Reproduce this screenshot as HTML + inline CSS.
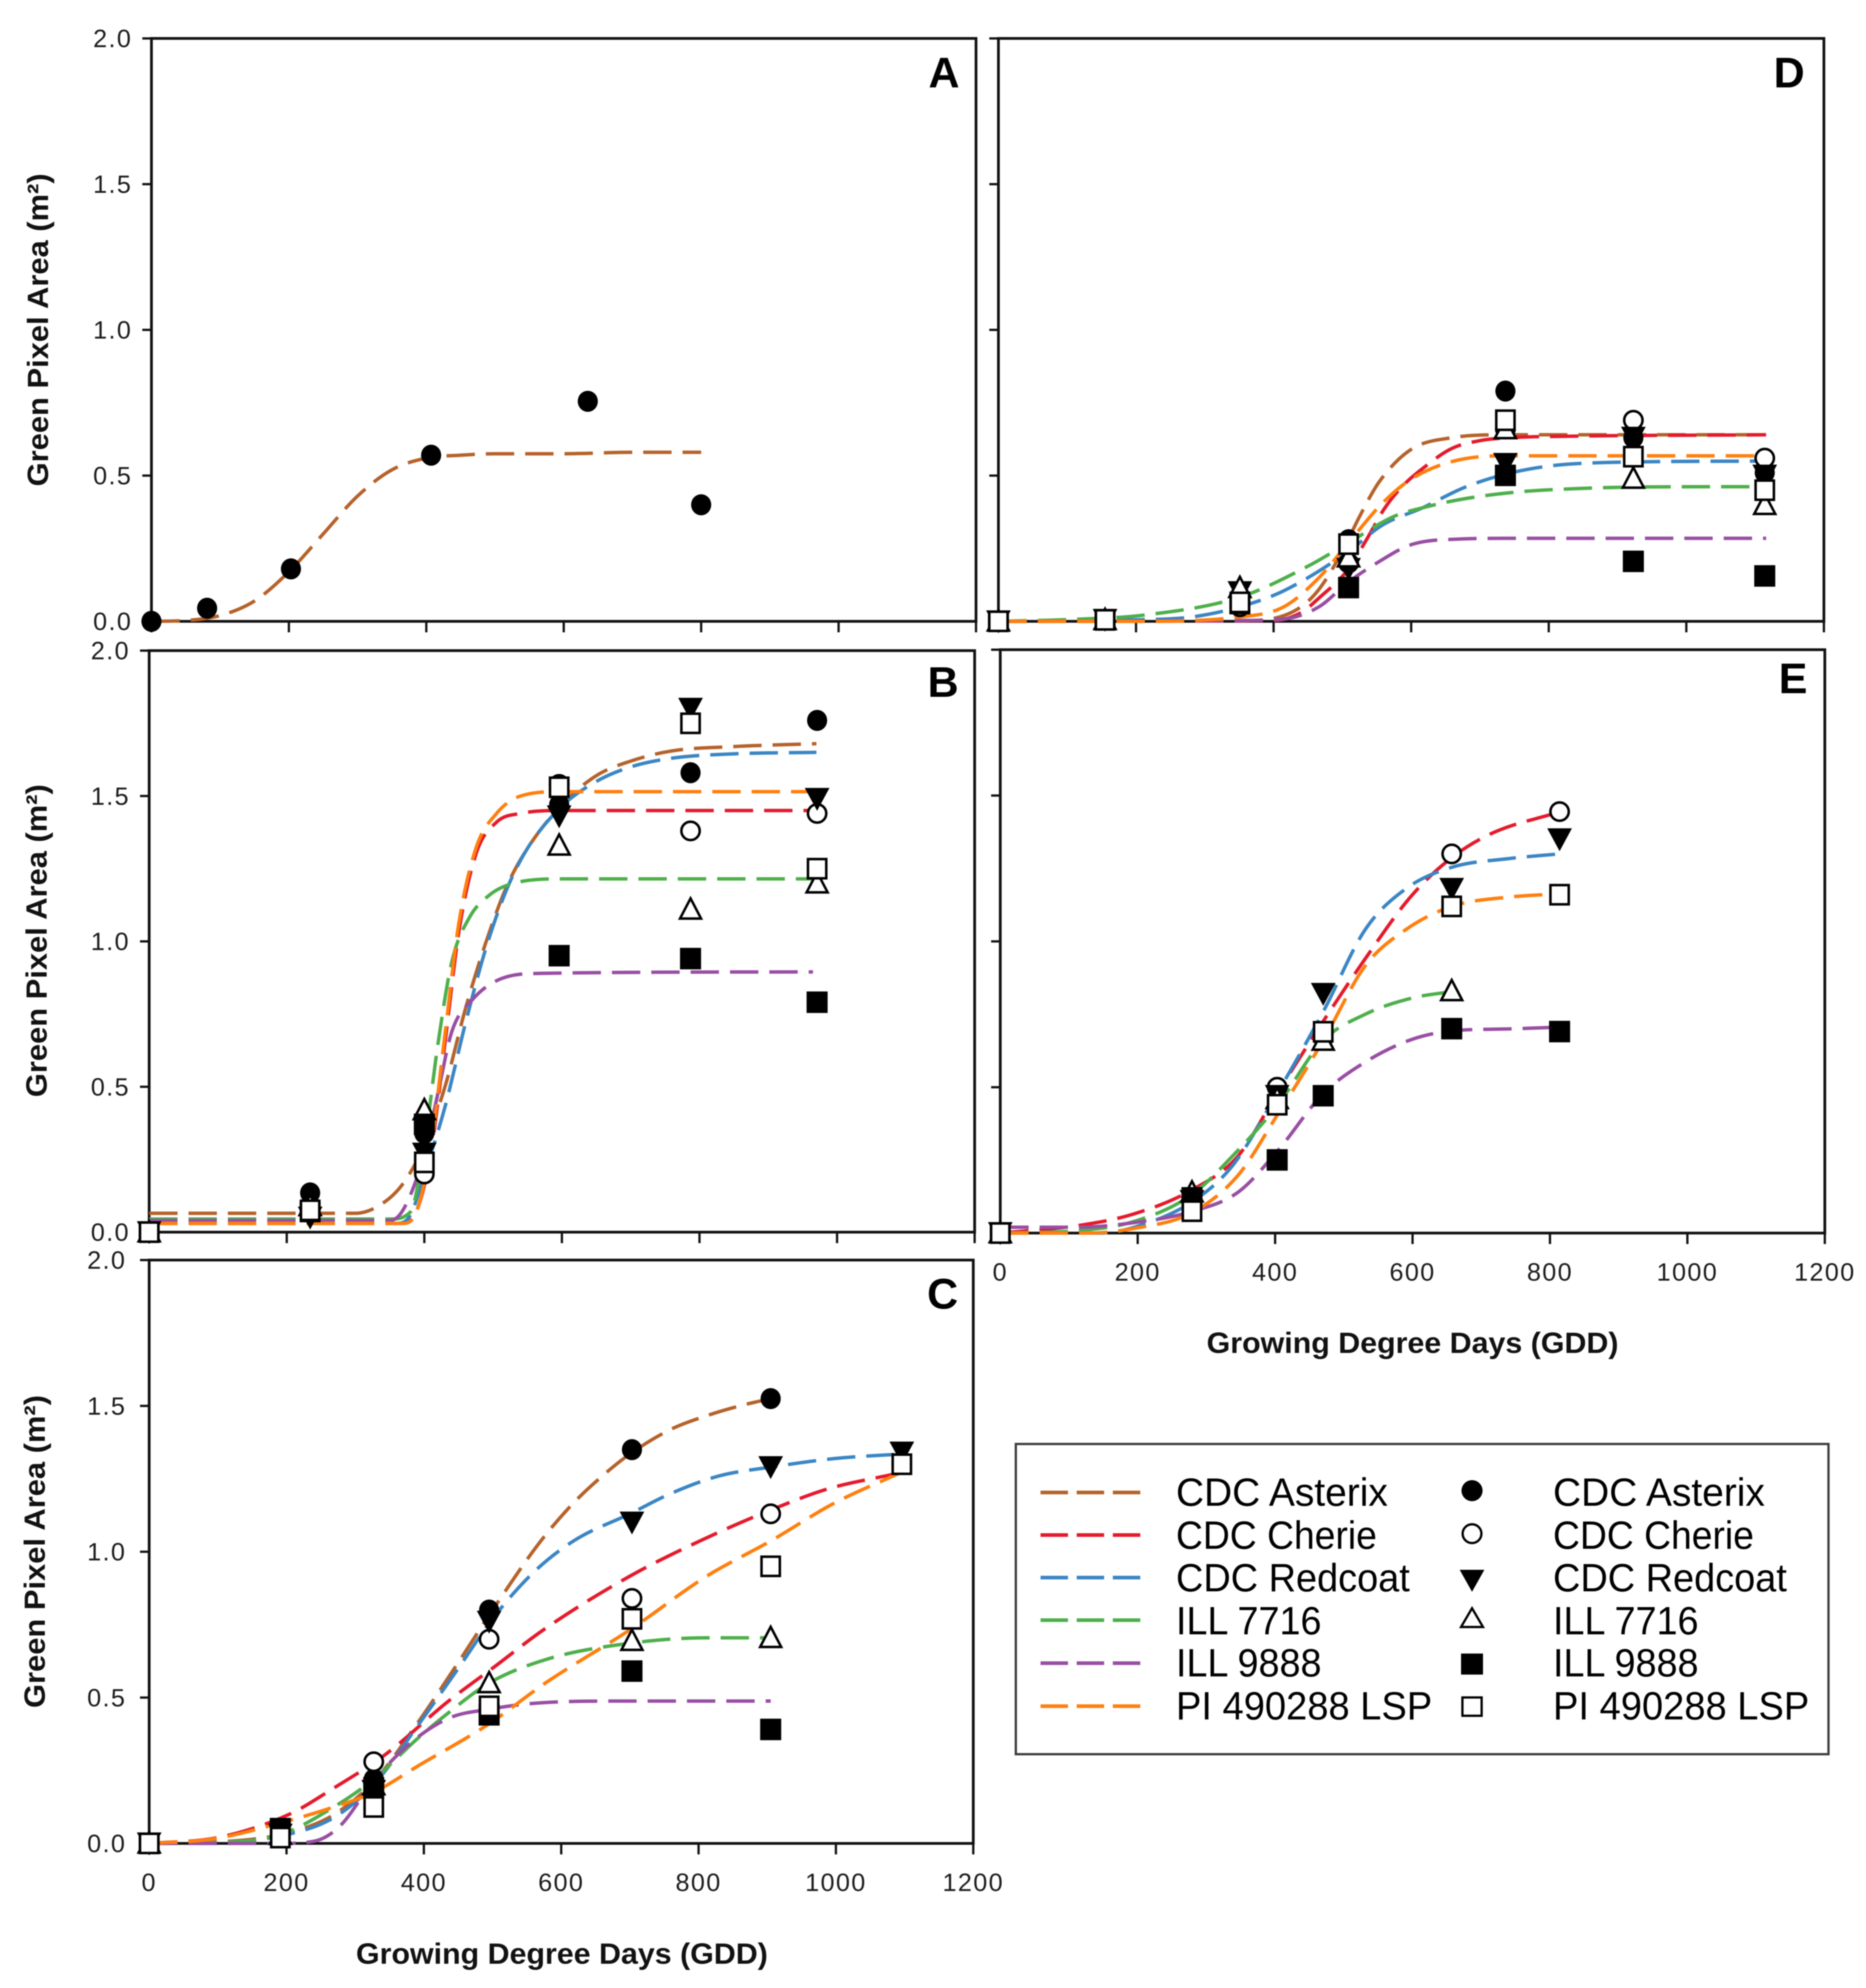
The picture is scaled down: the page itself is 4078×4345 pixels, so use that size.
<!DOCTYPE html>
<html lang="en">
<head>
<meta charset="utf-8">
<title>Green Pixel Area vs Growing Degree Days</title>
<style>
  html, body { margin: 0; padding: 0; background: #fff; }
  svg { display: block; filter: blur(1.2px); }
  text { font-family: "Liberation Sans", Arial, sans-serif; fill: #111; }
  .tick { font-size: 55px; letter-spacing: 3px; fill: #1c1c1c; }
  .axis-title { font-size: 64px; font-weight: bold; }
  .panel-letter { font-size: 94px; font-weight: bold; fill: #000; }
  .legend-text { font-size: 86px; fill: #000; }
</style>
</head>
<body>
<svg id="chart" xmlns="http://www.w3.org/2000/svg" width="4078" height="4345" viewBox="0 0 4078 4345">
  <rect x="0" y="0" width="4078" height="4345" fill="#fff"/>
  <g id="panels"></g>
  <g id="legend">
    <rect x="2220" y="3156" width="1776" height="678" fill="#fff" stroke="#3c3c3c" stroke-width="5"/>
    <g>
      <line x1="2274" x2="2492" y1="3262" y2="3262" stroke="#b5622a" stroke-width="8" stroke-dasharray="60 19"/>
      <text class="legend-text" x="2570" y="3291" textLength="463" lengthAdjust="spacingAndGlyphs">CDC Asterix</text>
    </g>
    <g>
      <line x1="2274" x2="2492" y1="3355" y2="3355" stroke="#e41a2c" stroke-width="8" stroke-dasharray="60 19"/>
      <text class="legend-text" x="2570" y="3385" textLength="439" lengthAdjust="spacingAndGlyphs">CDC Cherie</text>
    </g>
    <g>
      <line x1="2274" x2="2492" y1="3448" y2="3448" stroke="#3a85c4" stroke-width="8" stroke-dasharray="60 19"/>
      <text class="legend-text" x="2570" y="3478" textLength="511" lengthAdjust="spacingAndGlyphs">CDC Redcoat</text>
    </g>
    <g>
      <line x1="2274" x2="2492" y1="3541" y2="3541" stroke="#4daf4a" stroke-width="8" stroke-dasharray="60 19"/>
      <text class="legend-text" x="2570" y="3572" textLength="318" lengthAdjust="spacingAndGlyphs">ILL 7716</text>
    </g>
    <g>
      <line x1="2274" x2="2492" y1="3635" y2="3635" stroke="#984ea3" stroke-width="8" stroke-dasharray="60 19"/>
      <text class="legend-text" x="2570" y="3664" textLength="318" lengthAdjust="spacingAndGlyphs">ILL 9888</text>
    </g>
    <g>
      <line x1="2274" x2="2492" y1="3729" y2="3729" stroke="#ff7f0e" stroke-width="8" stroke-dasharray="60 19"/>
      <text class="legend-text" x="2570" y="3758" textLength="560" lengthAdjust="spacingAndGlyphs">PI 490288 LSP</text>
    </g>
    <g>
      <circle cx="3217" cy="3258" r="23" fill="#000"/>
      <text class="legend-text" x="3394" y="3291" textLength="463" lengthAdjust="spacingAndGlyphs">CDC Asterix</text>
    </g>
    <g>
      <circle cx="3217" cy="3352" r="20.5" fill="#fff" stroke="#000" stroke-width="5"/>
      <text class="legend-text" x="3394" y="3385" textLength="439" lengthAdjust="spacingAndGlyphs">CDC Cherie</text>
    </g>
    <g>
      <polygon points="3190,3431 3244,3431 3217,3479" fill="#000"/>
      <text class="legend-text" x="3394" y="3478" textLength="511" lengthAdjust="spacingAndGlyphs">CDC Redcoat</text>
    </g>
    <g>
      <polygon points="3193,3556 3241,3556 3217,3515" fill="#fff" stroke="#000" stroke-width="5"/>
      <text class="legend-text" x="3394" y="3572" textLength="318" lengthAdjust="spacingAndGlyphs">ILL 7716</text>
    </g>
    <g>
      <rect x="3193" y="3614" width="48" height="46" fill="#000"/>
      <text class="legend-text" x="3394" y="3664" textLength="318" lengthAdjust="spacingAndGlyphs">ILL 9888</text>
    </g>
    <g>
      <rect x="3196" y="3710" width="42" height="40" fill="#fff" stroke="#000" stroke-width="5"/>
      <text class="legend-text" x="3394" y="3758" textLength="560" lengthAdjust="spacingAndGlyphs">PI 490288 LSP</text>
    </g>
  </g>
</svg>
<script>
// ---------- Axis tick values ----------
const xTickValues = [0, 200, 400, 600, 800, 1000, 1200];
const yTickValues = [0, 0.5, 1, 1.5, 2];
const xTickLabels = ['0', '200', '400', '600', '800', '1000', '1200'];
const yTickLabels = ['0.0', '0.5', '1.0', '1.5', '2.0'];

// ---------- Panel A ----------
const obsDaysA = [0, 81, 203, 407, 635, 800];
const asterixObsA = [0, 0.045, 0.18, 0.57, 0.755, 0.40];
const asterixFitDaysA = [0, 50, 100, 150, 200, 250, 300, 350, 400, 450, 500, 600, 700, 800];
const asterixFitAreaA = [0, 0.003, 0.02, 0.07, 0.17, 0.30, 0.43, 0.52, 0.56, 0.57, 0.575, 0.575, 0.58, 0.58];

// ---------- Panel B ----------
const obsDaysB = [0, 234, 400, 596, 787, 971];
const asterixObsB = [0, 0.135, 0.34, 1.47, 1.58, 1.76];
const cherieObsB = [0, 0.07, 0.20, 1.54, 1.38, 1.44];
const redcoatObsB = [0, 0.05, 0.27, 1.43, 1.80, 1.49];
const ill7716ObsB = [0, 0.09, 0.42, 1.33, 1.11, 1.20];
const ill9888ObsB = [0, 0.07, 0.37, 0.95, 0.94, 0.79];
const lspObsB = [0, 0.075, 0.24, 1.53, 1.75, 1.25];
const asterixFitDaysB = [0, 300, 340, 370, 400, 430, 460, 490, 520, 550, 600, 650, 700, 760, 850, 970];
const asterixFitAreaB = [0.065, 0.065, 0.10, 0.17, 0.30, 0.50, 0.77, 1.0, 1.19, 1.32, 1.47, 1.57, 1.62, 1.655, 1.67, 1.68];
const cherieFitDaysB = [0, 370, 390, 410, 430, 450, 475, 505, 540, 600, 970];
const cherieFitAreaB = [0.03, 0.03, 0.08, 0.28, 0.65, 1.03, 1.30, 1.41, 1.44, 1.45, 1.45];
const redcoatFitDaysB = [0, 360, 380, 400, 430, 460, 490, 520, 550, 600, 650, 700, 760, 850, 970];
const redcoatFitAreaB = [0.03, 0.03, 0.06, 0.20, 0.43, 0.72, 0.98, 1.18, 1.32, 1.465, 1.55, 1.60, 1.63, 1.645, 1.65];
const ill7716FitDaysB = [0, 350, 380, 400, 420, 440, 465, 495, 530, 600, 970];
const ill7716FitAreaB = [0.045, 0.045, 0.07, 0.30, 0.65, 0.93, 1.08, 1.16, 1.20, 1.215, 1.215];
const ill9888FitDaysB = [0, 350, 370, 400, 420, 440, 470, 510, 570, 965];
const ill9888FitAreaB = [0.04, 0.04, 0.08, 0.27, 0.48, 0.69, 0.80, 0.87, 0.89, 0.895];
const lspFitDaysB = [0, 370, 390, 410, 430, 450, 475, 505, 540, 600, 970];
const lspFitAreaB = [0.03, 0.03, 0.08, 0.30, 0.68, 1.06, 1.32, 1.44, 1.50, 1.515, 1.515];

// ---------- Panel C ----------
const obsDaysC = [0, 191, 327, 495, 703, 905, 1096];
const asterixObsC = [0, 0.05, 0.22, 0.80, 1.35, 1.525, null];
const cherieObsC = [0, 0.02, 0.28, 0.70, 0.84, 1.13, 1.30];
const redcoatObsC = [0, 0.03, 0.18, 0.76, 1.10, 1.29, 1.34];
const ill7716ObsC = [0, 0.03, 0.20, 0.55, 0.695, 0.705, null];
const ill9888ObsC = [0, 0.05, 0.19, 0.44, 0.59, 0.39, null];
const lspObsC = [0, 0.02, 0.125, 0.47, 0.77, 0.95, 1.30];
const asterixFitDaysC = [0, 100, 200, 270, 330, 390, 450, 500, 568, 615, 660, 700, 760, 810, 860, 905];
const asterixFitAreaC = [0, 0.005, 0.035, 0.10, 0.22, 0.41, 0.62, 0.80, 1.03, 1.16, 1.26, 1.335, 1.42, 1.465, 1.50, 1.525];
const cherieFitDaysC = [0, 100, 204, 269, 344, 437, 503, 577, 699, 802, 905, 989, 1082];
const cherieFitAreaC = [0, 0.02, 0.10, 0.19, 0.305, 0.49, 0.606, 0.737, 0.915, 1.037, 1.143, 1.216, 1.265];
const redcoatFitDaysC = [0, 100, 200, 270, 330, 390, 450, 500, 560, 620, 700, 760, 830, 905, 1000, 1096];
const redcoatFitAreaC = [0, 0.003, 0.03, 0.09, 0.21, 0.40, 0.60, 0.77, 0.93, 1.04, 1.13, 1.20, 1.26, 1.29, 1.32, 1.335];
const ill7716FitDaysC = [0, 100, 191, 269, 327, 391, 437, 495, 577, 680, 811, 905];
const ill7716FitAreaC = [0, 0.003, 0.03, 0.125, 0.22, 0.36, 0.45, 0.55, 0.63, 0.68, 0.705, 0.705];
const ill9888FitDaysC = [0, 191, 241, 278, 327, 381, 437, 495, 559, 680, 905];
const ill9888FitAreaC = [0, 0, 0.008, 0.06, 0.215, 0.345, 0.43, 0.46, 0.48, 0.488, 0.488];
const lspFitDaysC = [0, 92, 191, 269, 327, 391, 495, 577, 703, 811, 905, 998, 1096];
const lspFitAreaC = [0, 0.015, 0.07, 0.125, 0.175, 0.265, 0.41, 0.55, 0.737, 0.915, 1.037, 1.167, 1.273];

// ---------- Panel D ----------
const obsDaysD = [0, 155, 351, 509, 737, 923, 1114];
const asterixObsD = [0, 0.005, 0.07, 0.28, 0.79, 0.63, 0.51];
const cherieObsD = [0, 0.005, 0.05, 0.20, 0.66, 0.69, 0.56];
const redcoatObsD = [0, 0.005, 0.10, 0.18, 0.54, 0.63, 0.50];
const ill7716ObsD = [0, 0.005, 0.115, 0.22, 0.66, 0.49, 0.40];
const ill9888ObsD = [0, 0.005, 0.06, 0.115, 0.50, 0.205, 0.155];
const lspObsD = [0, 0.005, 0.065, 0.265, 0.69, 0.565, 0.45];
const asterixFitDaysD = [0, 350, 400, 440, 466, 500, 525, 554, 600, 659, 734, 1116];
const asterixFitAreaD = [0, 0.002, 0.01, 0.05, 0.11, 0.24, 0.36, 0.48, 0.59, 0.63, 0.64, 0.64];
const cherieFitDaysD = [0, 400, 440, 466, 509, 535, 562, 590, 617, 659, 700, 743, 827, 1116];
const cherieFitAreaD = [0, 0.003, 0.03, 0.08, 0.18, 0.28, 0.39, 0.47, 0.525, 0.593, 0.62, 0.63, 0.635, 0.64];
const redcoatFitDaysD = [0, 197, 281, 351, 415, 509, 558, 617, 676, 734, 801, 885, 1116];
const redcoatFitAreaD = [0, 0.005, 0.015, 0.05, 0.105, 0.24, 0.33, 0.39, 0.458, 0.503, 0.533, 0.545, 0.55];
const ill7716FitDaysD = [0, 113, 214, 351, 449, 509, 575, 617, 676, 751, 835, 936, 1116];
const ill7716FitAreaD = [0, 0.007, 0.022, 0.083, 0.188, 0.27, 0.36, 0.39, 0.42, 0.443, 0.455, 0.461, 0.462];
const ill9888FitDaysD = [0, 351, 415, 466, 509, 550, 600, 667, 751, 1116];
const ill9888FitAreaD = [0, 0.003, 0.008, 0.05, 0.135, 0.20, 0.263, 0.282, 0.285, 0.285];
const lspFitDaysD = [0, 197, 351, 415, 466, 509, 558, 600, 659, 734, 1116];
const lspFitAreaD = [0, 0, 0.015, 0.05, 0.15, 0.27, 0.405, 0.488, 0.548, 0.568, 0.568];

// ---------- Panel E ----------
const obsDaysE = [0, 279, 403, 470, 657, 814];
const cherieObsE = [0, 0.10, 0.50, 0.67, 1.30, 1.445];
const redcoatObsE = [0, 0.11, 0.47, 0.82, 1.18, 1.35];
const ill7716ObsE = [0, 0.14, 0.46, 0.66, 0.83, null];
const ill9888ObsE = [0, 0.12, 0.25, 0.47, 0.70, 0.69];
const lspObsE = [0, 0.075, 0.44, 0.69, 1.12, 1.16];
const cherieFitDaysE = [0, 111, 195, 279, 346, 403, 470, 531, 598, 657, 715, 814];
const cherieFitAreaE = [0, 0.025, 0.066, 0.148, 0.264, 0.479, 0.726, 0.94, 1.155, 1.287, 1.37, 1.444];
const redcoatFitDaysE = [0, 144, 195, 279, 338, 403, 470, 531, 590, 657, 741, 814];
const redcoatFitAreaE = [0, 0, 0.02, 0.107, 0.231, 0.479, 0.759, 1.04, 1.18, 1.254, 1.284, 1.30];
const ill7716FitDaysE = [0, 111, 195, 279, 338, 403, 470, 531, 598, 657];
const ill7716FitAreaE = [0, 0.008, 0.04, 0.132, 0.264, 0.437, 0.66, 0.75, 0.805, 0.828];
const ill9888FitDaysE = [0, 111, 195, 279, 346, 403, 470, 531, 598, 657, 741, 814];
const ill9888FitAreaE = [0.02, 0.02, 0.036, 0.074, 0.14, 0.28, 0.478, 0.586, 0.663, 0.693, 0.70, 0.706];
const lspFitDaysE = [0, 128, 195, 279, 346, 403, 470, 531, 590, 657, 741, 814];
const lspFitAreaE = [0, 0, 0.016, 0.07, 0.198, 0.404, 0.66, 0.916, 1.04, 1.12, 1.152, 1.163];

// ---------- Drawing ----------
const NS = 'http://www.w3.org/2000/svg';
const seriesColor = { asterix: '#b5622a', cherie: '#e41a2c', redcoat: '#3a85c4', ill7716: '#4daf4a', ill9888: '#984ea3', lsp: '#ff7f0e' };

function make(tag, attrs, parent) {
  const node = document.createElementNS(NS, tag);
  for (const k in attrs) node.setAttribute(k, attrs[k]);
  parent.appendChild(node);
  return node;
}

// Monotone cubic path through the given screen points
function smoothPath(px, py) {
  const n = px.length;
  const d = [];
  for (let i = 0; i < n - 1; i++) d.push((py[i + 1] - py[i]) / (px[i + 1] - px[i]));
  const m = [d[0]];
  for (let i = 1; i < n - 1; i++) m.push(d[i - 1] * d[i] <= 0 ? 0 : (d[i - 1] + d[i]) / 2);
  m.push(d[n - 2]);
  for (let i = 0; i < n - 1; i++) {
    if (d[i] === 0) { m[i] = 0; m[i + 1] = 0; continue; }
    const a = m[i] / d[i], b = m[i + 1] / d[i], s = a * a + b * b;
    if (s > 9) { const t = 3 / Math.sqrt(s); m[i] = t * a * d[i]; m[i + 1] = t * b * d[i]; }
  }
  let path = 'M' + px[0].toFixed(1) + ' ' + py[0].toFixed(1);
  for (let i = 0; i < n - 1; i++) {
    const h = (px[i + 1] - px[i]) / 3;
    path += ' C' + (px[i] + h).toFixed(1) + ' ' + (py[i] + m[i] * h).toFixed(1) +
      ' ' + (px[i + 1] - h).toFixed(1) + ' ' + (py[i + 1] - m[i + 1] * h).toFixed(1) +
      ' ' + px[i + 1].toFixed(1) + ' ' + py[i + 1].toFixed(1);
  }
  return path;
}

function drawMarker(parent, key, cx, cy, name) {
  let node;
  if (key === 'asterix') {
    node = make('ellipse', { cx: cx, cy: cy, rx: 22, ry: 23, fill: '#000' }, parent);
  } else if (key === 'cherie') {
    node = make('circle', { cx: cx, cy: cy, r: 20, fill: '#fff', stroke: '#000', 'stroke-width': 5.5 }, parent);
  } else if (key === 'redcoat') {
    node = make('polygon', { points: (cx - 27) + ',' + (cy - 24) + ' ' + (cx + 27) + ',' + (cy - 24) + ' ' + cx + ',' + (cy + 26), fill: '#000' }, parent);
  } else if (key === 'ill7716') {
    node = make('polygon', { points: (cx - 23) + ',' + (cy + 20) + ' ' + (cx + 23) + ',' + (cy + 20) + ' ' + cx + ',' + (cy - 24), fill: '#fff', stroke: '#000', 'stroke-width': 5.5 }, parent);
  } else if (key === 'ill9888') {
    node = make('rect', { x: cx - 23, y: cy - 24, width: 46, height: 47, fill: '#000' }, parent);
  } else {
    node = make('rect', { x: cx - 20, y: cy - 21, width: 40, height: 42, fill: '#fff', stroke: '#000', 'stroke-width': 5.5 }, parent);
  }
  
  
}

function drawPanel(letter, box, opts, obsDays, series) {
  const root = document.getElementById('panels');
  const g = make('g', {}, root);
  
  

  const xScale = function (v) { return box.left + (v / 1200) * (box.right - box.left); };
  const yScale = function (v) { return box.bottom - (v / 2) * (box.bottom - box.top); };

  const frame = make('rect', { x: box.left, y: box.top, width: box.right - box.left, height: box.bottom - box.top, fill: 'none', stroke: '#111', 'stroke-width': 6 }, g);
  
  

  xTickValues.forEach(function (v, i) {
    const tick = make('line', { x1: xScale(v), x2: xScale(v), y1: box.bottom, y2: box.bottom + 24, stroke: '#111', 'stroke-width': 5 }, g);
    
    
    if (opts.xLabels) {
      const label = make('text', { class: 'tick', x: xScale(v), y: box.bottom + 104, 'text-anchor': 'middle' }, g);
      label.textContent = xTickLabels[i];
      
      
    }
  });

  yTickValues.forEach(function (v, i) {
    const tick = make('line', { x1: box.left - 20, x2: box.left, y1: yScale(v), y2: yScale(v), stroke: '#111', 'stroke-width': 5 }, g);
    
    
    if (opts.yLabels) {
      const label = make('text', { class: 'tick', x: box.left - opts.yLabelGap, y: yScale(v) + 19, 'text-anchor': 'end' }, g);
      label.textContent = yTickLabels[i];
      
      
    }
  });

  if (opts.yTitle) {
    const title = make('text', { class: 'axis-title', transform: 'translate(' + opts.yTitle.x + ' ' + opts.yTitle.y + ') rotate(-90)', 'text-anchor': 'middle', textLength: 684, lengthAdjust: 'spacingAndGlyphs' }, g);
    title.textContent = 'Green Pixel Area (m²)';
    
    
  }
  if (opts.xTitle) {
    const title = make('text', { class: 'axis-title', x: opts.xTitle.x, y: opts.xTitle.y, 'text-anchor': 'middle', textLength: 900, lengthAdjust: 'spacingAndGlyphs' }, g);
    title.textContent = 'Growing Degree Days (GDD)';
    
    
  }

  const panelLabel = make('text', { class: 'panel-letter', x: opts.letterX, y: opts.letterY, 'text-anchor': 'end' }, g);
  panelLabel.textContent = letter;
  
  

  series.forEach(function (s) {
    const curve = make('path', {
      d: smoothPath(s.fitDays.map(xScale), s.fitArea.map(yScale)),
      fill: 'none', stroke: seriesColor[s.key], 'stroke-width': 7.5, 'stroke-dasharray': '62 24'
    }, g);
    
    
  });

  series.forEach(function (s) {
    s.obs.forEach(function (v, i) {
      if (v === null) return;
      drawMarker(g, s.key, xScale(obsDays[i]), yScale(v), 'point-' + s.key + '-' + obsDays[i]);
    });
  });
}

drawPanel('A', { left: 331, right: 2133, top: 84, bottom: 1358 },
  { yLabels: true, yLabelGap: 42, xLabels: false, yTitle: { x: 105, y: 721 }, letterX: 2097, letterY: 191 },
  obsDaysA,
  [{ key: 'asterix', fitDays: asterixFitDaysA, fitArea: asterixFitAreaA, obs: asterixObsA }]);

drawPanel('B', { left: 326, right: 2130, top: 1422, bottom: 2693 },
  { yLabels: true, yLabelGap: 42, xLabels: false, yTitle: { x: 102, y: 2056 }, letterX: 2095, letterY: 1523 },
  obsDaysB,
  [
    { key: 'asterix', fitDays: asterixFitDaysB, fitArea: asterixFitAreaB, obs: asterixObsB },
    { key: 'cherie', fitDays: cherieFitDaysB, fitArea: cherieFitAreaB, obs: cherieObsB },
    { key: 'redcoat', fitDays: redcoatFitDaysB, fitArea: redcoatFitAreaB, obs: redcoatObsB },
    { key: 'ill7716', fitDays: ill7716FitDaysB, fitArea: ill7716FitAreaB, obs: ill7716ObsB },
    { key: 'ill9888', fitDays: ill9888FitDaysB, fitArea: ill9888FitAreaB, obs: ill9888ObsB },
    { key: 'lsp', fitDays: lspFitDaysB, fitArea: lspFitAreaB, obs: lspObsB }
  ]);

drawPanel('C', { left: 326, right: 2127, top: 2754, bottom: 4029 },
  { yLabels: true, yLabelGap: 50, xLabels: true, yTitle: { x: 98, y: 3391 }, xTitle: { x: 1228, y: 4292 }, letterX: 2094, letterY: 2860 },
  obsDaysC,
  [
    { key: 'asterix', fitDays: asterixFitDaysC, fitArea: asterixFitAreaC, obs: asterixObsC },
    { key: 'cherie', fitDays: cherieFitDaysC, fitArea: cherieFitAreaC, obs: cherieObsC },
    { key: 'redcoat', fitDays: redcoatFitDaysC, fitArea: redcoatFitAreaC, obs: redcoatObsC },
    { key: 'ill7716', fitDays: ill7716FitDaysC, fitArea: ill7716FitAreaC, obs: ill7716ObsC },
    { key: 'ill9888', fitDays: ill9888FitDaysC, fitArea: ill9888FitAreaC, obs: ill9888ObsC },
    { key: 'lsp', fitDays: lspFitDaysC, fitArea: lspFitAreaC, obs: lspObsC }
  ]);

drawPanel('D', { left: 2182, right: 3986, top: 84, bottom: 1358 },
  { yLabels: false, xLabels: false, letterX: 3944, letterY: 191 },
  obsDaysD,
  [
    { key: 'asterix', fitDays: asterixFitDaysD, fitArea: asterixFitAreaD, obs: asterixObsD },
    { key: 'cherie', fitDays: cherieFitDaysD, fitArea: cherieFitAreaD, obs: cherieObsD },
    { key: 'redcoat', fitDays: redcoatFitDaysD, fitArea: redcoatFitAreaD, obs: redcoatObsD },
    { key: 'ill7716', fitDays: ill7716FitDaysD, fitArea: ill7716FitAreaD, obs: ill7716ObsD },
    { key: 'ill9888', fitDays: ill9888FitDaysD, fitArea: ill9888FitAreaD, obs: ill9888ObsD },
    { key: 'lsp', fitDays: lspFitDaysD, fitArea: lspFitAreaD, obs: lspObsD }
  ]);

drawPanel('E', { left: 2186, right: 3988, top: 1420, bottom: 2695 },
  { yLabels: false, xLabels: true, xTitle: { x: 3087, y: 2957 }, letterX: 3950, letterY: 1515 },
  obsDaysE,
  [
    { key: 'cherie', fitDays: cherieFitDaysE, fitArea: cherieFitAreaE, obs: cherieObsE },
    { key: 'redcoat', fitDays: redcoatFitDaysE, fitArea: redcoatFitAreaE, obs: redcoatObsE },
    { key: 'ill7716', fitDays: ill7716FitDaysE, fitArea: ill7716FitAreaE, obs: ill7716ObsE },
    { key: 'ill9888', fitDays: ill9888FitDaysE, fitArea: ill9888FitAreaE, obs: ill9888ObsE },
    { key: 'lsp', fitDays: lspFitDaysE, fitArea: lspFitAreaE, obs: lspObsE }
  ]);
</script>
</body>
</html>
